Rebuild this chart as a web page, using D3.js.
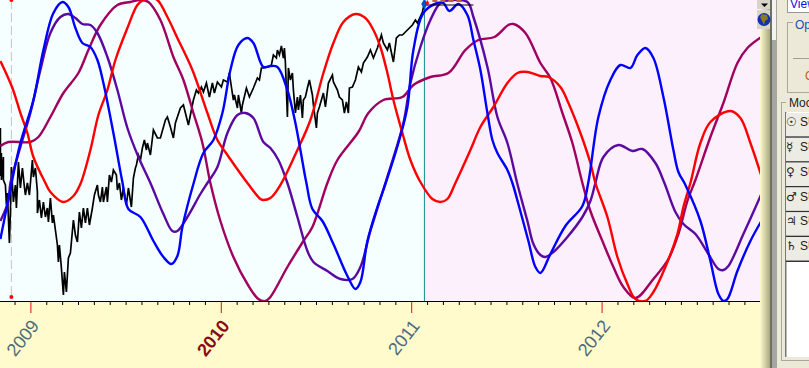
<!DOCTYPE html>
<html>
<head>
<meta charset="utf-8">
<title>cycles</title>
<script src="https://cdn.jsdelivr.net/npm/d3@7"></script>
<style>
html, body { margin: 0; padding: 0; background: #ece9d8; overflow: hidden; }
svg { display: block; font-family: "Liberation Sans", Arial, sans-serif; }
</style>
</head>
<body>
<script>
// every series is [step, level]; a step is one bar of the chart, counted from 1 Jan 2009
var stepsPerYear = 190.4
var cutStep = 394

var priceLine = [[-30,173],[-30,125],[-29,148],[-29,121],[-27,144],[-27,121],[-25,116],[-24,96],[-23,108],[-21,58],[-20,89],[-19,134],[-17,99],[-15,116],[-14,93],[-12,139],[-10,113],[-8,133],[-6,114],[-5,106],[-3,118],[-1,106],[2,141],[3,124],[5,133],[7,109],[7,88],[9,101],[11,83],[13,99],[15,84],[17,93],[18,79],[20,103],[22,78],[23,86],[25,71],[27,56],[28,39],[29,56],[31,33],[32,19],[33,6],[34,29],[36,9],[38,43],[40,48],[41,59],[43,81],[45,66],[47,59],[49,89],[51,73],[53,93],[55,78],[57,93],[59,76],[62,93],[64,106],[67,116],[68,106],[70,99],[72,114],[73,99],[76,114],[77,99],[79,126],[81,119],[83,131],[86,126],[87,111],[89,118],[91,101],[93,113],[96,96],[98,113],[101,94],[103,123],[105,133],[106,136],[108,146],[110,141],[112,153],[114,161],[116,151],[117,158],[120,146],[123,171],[127,163],[130,163],[135,181],[137,184],[140,174],[143,163],[145,178],[150,193],[153,196],[155,188],[158,176],[161,191],[163,201],[166,211],[168,208],[171,214],[173,209],[176,218],[179,204],[182,218],[184,208],[187,219],[191,214],[193,221],[197,219],[199,228],[201,214],[203,201],[204,206],[207,193],[208,206],[211,188],[212,196],[216,213],[219,204],[223,213],[227,223],[229,221],[231,233],[233,233],[238,234],[241,236],[243,246],[246,243],[247,251],[249,246],[251,255],[253,243],[254,253],[255,238],[257,184],[258,233],[260,221],[262,228],[263,211],[265,188],[267,204],[268,191],[270,206],[272,183],[273,201],[275,204],[277,213],[279,221],[282,206],[283,196],[286,173],[287,188],[289,194],[291,201],[293,208],[295,194],[298,218],[302,226],[303,219],[307,211],[309,204],[312,201],[314,188],[316,199],[318,188],[319,213],[322,214],[325,221],[328,234],[331,229],[333,238],[337,244],[340,251],[343,243],[347,253],[351,266],[353,258],[357,251],[359,258],[363,239],[366,263],[369,266],[372,266],[377,271],[382,276],[385,281],[387,278],[392,289],[394,298]]

var redCycle = [[-30,240],[-18,213],[-10,188],[-3,168],[3,144],[15,118],[20,109],[33,99],[43,105],[50,117],[60,151],[68,186],[77,211],[85,241],[97,273],[107,296],[113,301],[120,303],[127,301],[137,284],[147,263],[162,231],[177,188],[187,161],[197,146],[217,118],[230,102],[233,101],[240,103],[250,116],[267,151],[280,181],[293,228],[303,258],[313,279],[325,287],[335,283],[343,271],[350,254],[357,228],[363,201],[372,168],[380,141],[390,119],[402,102],[410,99],[417,102],[425,118],[440,151],[450,174],[463,194],[477,218],[487,228],[497,229],[510,225],[518,224],[530,214],[538,198],[550,168],[560,138],[565,118],[577,84],[587,44],[597,17],[605,2],[615,0],[623,9],[635,34],[647,67],[653,94],[660,118],[670,158],[680,179],[700,190],[710,183],[720,158],[731,125]]

var blueCycle = [[-30,62],[-23,97],[-19,117],[-10,158],[3,201],[13,251],[23,288],[32,299],[38,294],[45,273],[52,258],[60,254],[67,241],[73,218],[83,168],[92,119],[98,92],[110,84],[123,60],[133,44],[141,37],[147,45],[152,74],[163,117],[173,148],[183,161],[192,188],[200,231],[208,256],[217,263],[223,258],[233,234],[240,235],[247,234],[257,211],[265,178],[270,151],[276,118],[282,92],[292,80],[303,57],[317,25],[325,12],[330,19],[337,60],[347,94],[355,117],[368,158],[377,194],[383,251],[393,288],[407,298],[413,298],[419,290],[428,297],[437,286],[443,261],[450,231],[457,188],[462,161],[467,148],[477,131],[482,118],[488,97],[498,60],[505,34],[510,28],[520,47],[535,75],[552,95],[558,119],[568,184],[580,221],[590,236],[600,233],[607,246],[615,253],[623,243],[633,204],[643,151],[648,129],[655,116],[670,80],[680,40],[688,7],[693,0],[697,2],[707,30],[720,60],[731,80]]

var indigoCycle = [[-30,80],[-22,100],[-20,118],[-10,154],[0,188],[10,231],[20,268],[30,284],[38,287],[45,283],[52,277],[60,276],[67,268],[77,244],[87,211],[97,173],[108,144],[120,118],[133,87],[142,70],[147,70],[157,84],[170,107],[177,118],[187,134],[197,168],[207,186],[215,188],[223,183],[233,159],[240,153],[248,141],[257,118],[267,84],[277,50],[283,39],[297,30],[310,22],[322,22],[330,34],[340,70],[355,118],[373,178],[380,218],[390,254],[400,281],[410,298],[420,301],[437,299],[443,284],[457,234],[467,184],[477,158],[487,117],[497,80],[503,57],[510,46],[515,44],[523,49],[537,64],[552,84],[560,100],[565,118],[573,144],[588,156],[602,150],[612,152],[625,138],[634,118],[645,89],[653,77],[665,67],[678,47],[688,32],[693,31],[698,35],[713,67],[731,107]]

var crimsonCycle = [[-30,155],[-22,159],[0,159],[8,164],[20,184],[33,208],[48,228],[58,251],[70,276],[87,296],[100,299],[110,301],[118,299],[130,281],[143,244],[153,221],[163,188],[172,158],[180,118],[190,80],[203,44],[217,17],[228,2],[235,0],[240,4],[257,34],[273,60],[282,74],[297,118],[307,141],[328,169],[338,188],[353,201],[372,204],[383,216],[400,224],[418,228],[435,251],[448,261],[464,264],[478,276],[483,277],[495,268],[510,238],[520,223],[532,188],[542,158],[552,118],[560,90],[572,60],[583,34],[593,14],[605,3],[623,22],[638,42],[648,67],[657,100],[665,121],[680,164],[693,198],[707,238],[717,253],[731,264]]

var years = [2009, 2010, 2011, 2012]
var months = d3.range(-2, 47)
var moduleRows = ["\u2609", "\u263F", "\u2640", "\u2642", "\u2643", "\u2644"]

var width = 809
var height = 368
var plotRight = 762
var plotBottom = 301

var svg = d3.select("body").append("svg").attr("width", width).attr("height", height)

var x = d3.scaleLinear().domain([2009, 2012]).range([30.4, 601.6])
var y = d3.scaleLinear().domain([0, plotBottom]).range([plotBottom, 0])

function stepX(step) { return x(2009 + step / stepsPerYear) }

var defs = svg.append("defs")
defs.append("clipPath").attr("id", "plot").append("rect")
    .attr("x", 0).attr("y", 0).attr("width", plotRight).attr("height", plotBottom)

var edge = defs.append("linearGradient").attr("id", "edge")
edge.append("stop").attr("offset", "0%").attr("stop-color", "#fffbd0")
edge.append("stop").attr("offset", "100%").attr("stop-color", "#a8a880")

var cutX = stepX(cutStep)

// backgrounds
svg.append("rect").attr("width", cutX).attr("height", plotBottom).attr("fill", "#f5ffff")
svg.append("rect").attr("x", cutX).attr("width", plotRight - cutX).attr("height", plotBottom).attr("fill", "#fdf0fd")
svg.append("rect").attr("y", plotBottom).attr("width", plotRight).attr("height", height - plotBottom).attr("fill", "#fffbcc")

// start marker
var startX = stepX(-19)
svg.append("line").attr("x1", startX).attr("x2", startX).attr("y1", 0).attr("y2", y(4))
    .attr("stroke", "#c4c4c4").attr("stroke-width", 1).attr("stroke-dasharray", "9,4")
svg.append("circle").attr("cx", startX).attr("cy", y(4)).attr("r", 2).attr("fill", "red")
svg.append("circle").attr("cx", startX).attr("cy", 0).attr("r", 2).attr("fill", "red")

var plot = svg.append("g").attr("clip-path", "url(#plot)")

var jagged = d3.line().x(function(d) { return stepX(d[0]) }).y(function(d) { return y(d[1]) })
var smooth = d3.line().x(function(d) { return stepX(d[0]) }).y(function(d) { return y(d[1]) }).curve(d3.curveCatmullRom.alpha(0.5))

plot.append("path").attr("d", jagged(priceLine))
    .attr("fill", "none").attr("stroke", "black").attr("stroke-width", 1.7)

plot.append("line").attr("x1", cutX).attr("x2", cutX).attr("y1", 0).attr("y2", plotBottom)
    .attr("stroke", "#108890").attr("stroke-width", 1)

var cycles = [[crimsonCycle, "#a0005f"], [indigoCycle, "#5a0aa0"], [redCycle, "#ff0000"], [blueCycle, "#0000ff"]]
cycles.forEach(function(c) {
    plot.append("path").attr("d", smooth(c[0]))
        .attr("fill", "none").attr("stroke", c[1]).attr("stroke-width", 2.4)
})

// last price flag
plot.append("line").attr("x1", cutX).attr("x2", cutX + 49).attr("y1", 5).attr("y2", 5)
    .attr("stroke", "black").attr("stroke-width", 1)
plot.append("line").attr("x1", cutX + 8).attr("x2", cutX + 38).attr("y1", 1).attr("y2", 1)
    .attr("stroke", "#c06040").attr("stroke-width", 2).attr("stroke-dasharray", "5,3")
plot.append("path").attr("d", d3.symbol().type(d3.symbolDiamond).size(34)())
    .attr("transform", "translate(" + cutX + ",4)").attr("fill", "#0050d0")
plot.append("path").attr("d", d3.symbol().type(d3.symbolDiamond).size(10)())
    .attr("transform", "translate(" + (cutX + 3) + ",3)").attr("fill", "red")

// axes
var monthAxis = d3.axisBottom(d3.scaleLinear().domain(x.domain().map(function(v) { return (v - 2009) * 12 })).range(x.range()))
    .tickValues(months.filter(function(m) { return m % 12 != 0 })).tickSize(4).tickFormat("")
var monthG = svg.append("g").attr("transform", "translate(0," + plotBottom + ")").call(monthAxis)
monthG.select(".domain").remove()
monthG.selectAll("line").attr("stroke", "black")

var yearAxis = d3.axisBottom(x).tickValues(years).tickSize(12).tickFormat(d3.format("d"))
var yearG = svg.append("g").attr("transform", "translate(0," + plotBottom + ")").call(yearAxis)
yearG.select(".domain").remove()
yearG.selectAll("line").attr("stroke", "#e01010")
yearG.selectAll("text")
    .attr("x", null).attr("y", null).attr("dy", null)
    .attr("text-anchor", "end")
    .attr("font-size", 18)
    .attr("font-family", "'Liberation Sans', Arial, sans-serif")
    .attr("font-weight", function(d) { return d == 2010 ? "bold" : "normal" })
    .attr("fill", function(d) { return d == 2010 ? "#8c0a10" : "#4f6b7c" })
    .attr("transform", "translate(9,25) rotate(-52)")

svg.append("line").attr("x1", 0).attr("x2", plotRight).attr("y1", plotBottom + .5).attr("y2", plotBottom + .5)
    .attr("stroke", "black").attr("stroke-width", 1)

// window chrome on the right
svg.append("rect").attr("x", plotRight - 2).attr("width", 10).attr("height", height).attr("fill", "url(#edge)")
svg.append("rect").attr("x", 770).attr("width", 7).attr("height", height).attr("fill", "#a6a69e")
svg.append("rect").attr("x", 770).attr("width", 2).attr("height", height).attr("fill", "#6e6e68")
svg.append("rect").attr("x", 772).attr("width", 4).attr("height", 40).attr("fill", "#f4f4ee")
svg.append("rect").attr("x", 777).attr("width", 32).attr("height", height).attr("fill", "#ece9d8")

// scroll button and globe
svg.append("rect").attr("x", 757).attr("width", 13).attr("height", 9).attr("fill", "#d8d5c8")
svg.append("path").attr("d", "M761,3.5h7l-3.5,3.5z").attr("fill", "black")
svg.append("rect").attr("x", 757).attr("y", 10).attr("width", 13).attr("height", 19).attr("fill", "#d8d5c8")
svg.append("circle").attr("cx", 764).attr("cy", 19.5).attr("r", 6.5).attr("fill", "#1030b0")
svg.append("path").attr("d", "M762,14l5,1l1,4l-3,2l-1,4l-2,-4l-2,-4z").attr("fill", "#8a7a20")

// view box
svg.append("rect").attr("x", 787.5).attr("y", -2).attr("width", 30).attr("height", 14.5)
    .attr("fill", "white").attr("stroke", "#9a9a94")
svg.append("text").attr("x", 790).attr("y", 8).attr("font-size", 12).attr("fill", "#1010e0").text("View")

// option group
svg.append("rect").attr("x", 787.5).attr("y", 22.5).attr("width", 30).attr("height", 70)
    .attr("fill", "none").attr("stroke", "#a8a89c")
svg.append("rect").attr("x", 793).attr("y", 18).attr("width", 16).attr("height", 10).attr("fill", "#ece9d8")
svg.append("text").attr("x", 795).attr("y", 29).attr("font-size", 12).attr("fill", "#2050b0").text("Opt")
svg.append("line").attr("x1", 793).attr("x2", 809).attr("y1", 58.5).attr("y2", 58.5).attr("stroke", "#a0a098")
svg.append("text").attr("x", 805).attr("y", 80).attr("font-size", 12).attr("fill", "#c06020").text("O")

// module table
svg.append("rect").attr("x", 781.5).attr("y", 102.5).attr("width", 40).attr("height", 258)
    .attr("fill", "none").attr("stroke", "#a8a89c")
svg.append("rect").attr("x", 786).attr("y", 98).attr("width", 23).attr("height", 10).attr("fill", "#ece9d8")
svg.append("text").attr("x", 789).attr("y", 107).attr("font-size", 12).attr("fill", "#222").text("Moc")
svg.append("rect").attr("x", 785).attr("y", 112).attr("width", 24).attr("height", 245).attr("fill", "white")
svg.append("rect").attr("x", 785).attr("y", 112).attr("width", 1.5).attr("height", 245).attr("fill", "#777")

var rowY = d3.scaleLinear().domain([0, moduleRows.length]).range([113, 262])
var row = svg.selectAll("g.row").data(moduleRows).enter().append("g").attr("class", "row")
    .attr("transform", function(d, i) { return "translate(786," + rowY(i) + ")" })
row.append("rect").attr("width", 23).attr("height", rowY(1) - rowY(0) - 1.5).attr("fill", "#ecebe4")
row.append("line").attr("x1", 0).attr("x2", 23).attr("y1", rowY(1) - rowY(0) - .75).attr("y2", rowY(1) - rowY(0) - .75)
    .attr("stroke", "#333").attr("stroke-width", 1.5)
row.append("text").attr("x", 0).attr("y", 13).attr("font-size", 12).attr("font-weight", "bold")
    .attr("font-family", "'DejaVu Sans', sans-serif").attr("fill", "#222").text(function(d) { return d })
row.append("text").attr("x", 14).attr("y", 13).attr("font-size", 12).attr("fill", "#222").text("SU")
</script>
</body>
</html>
